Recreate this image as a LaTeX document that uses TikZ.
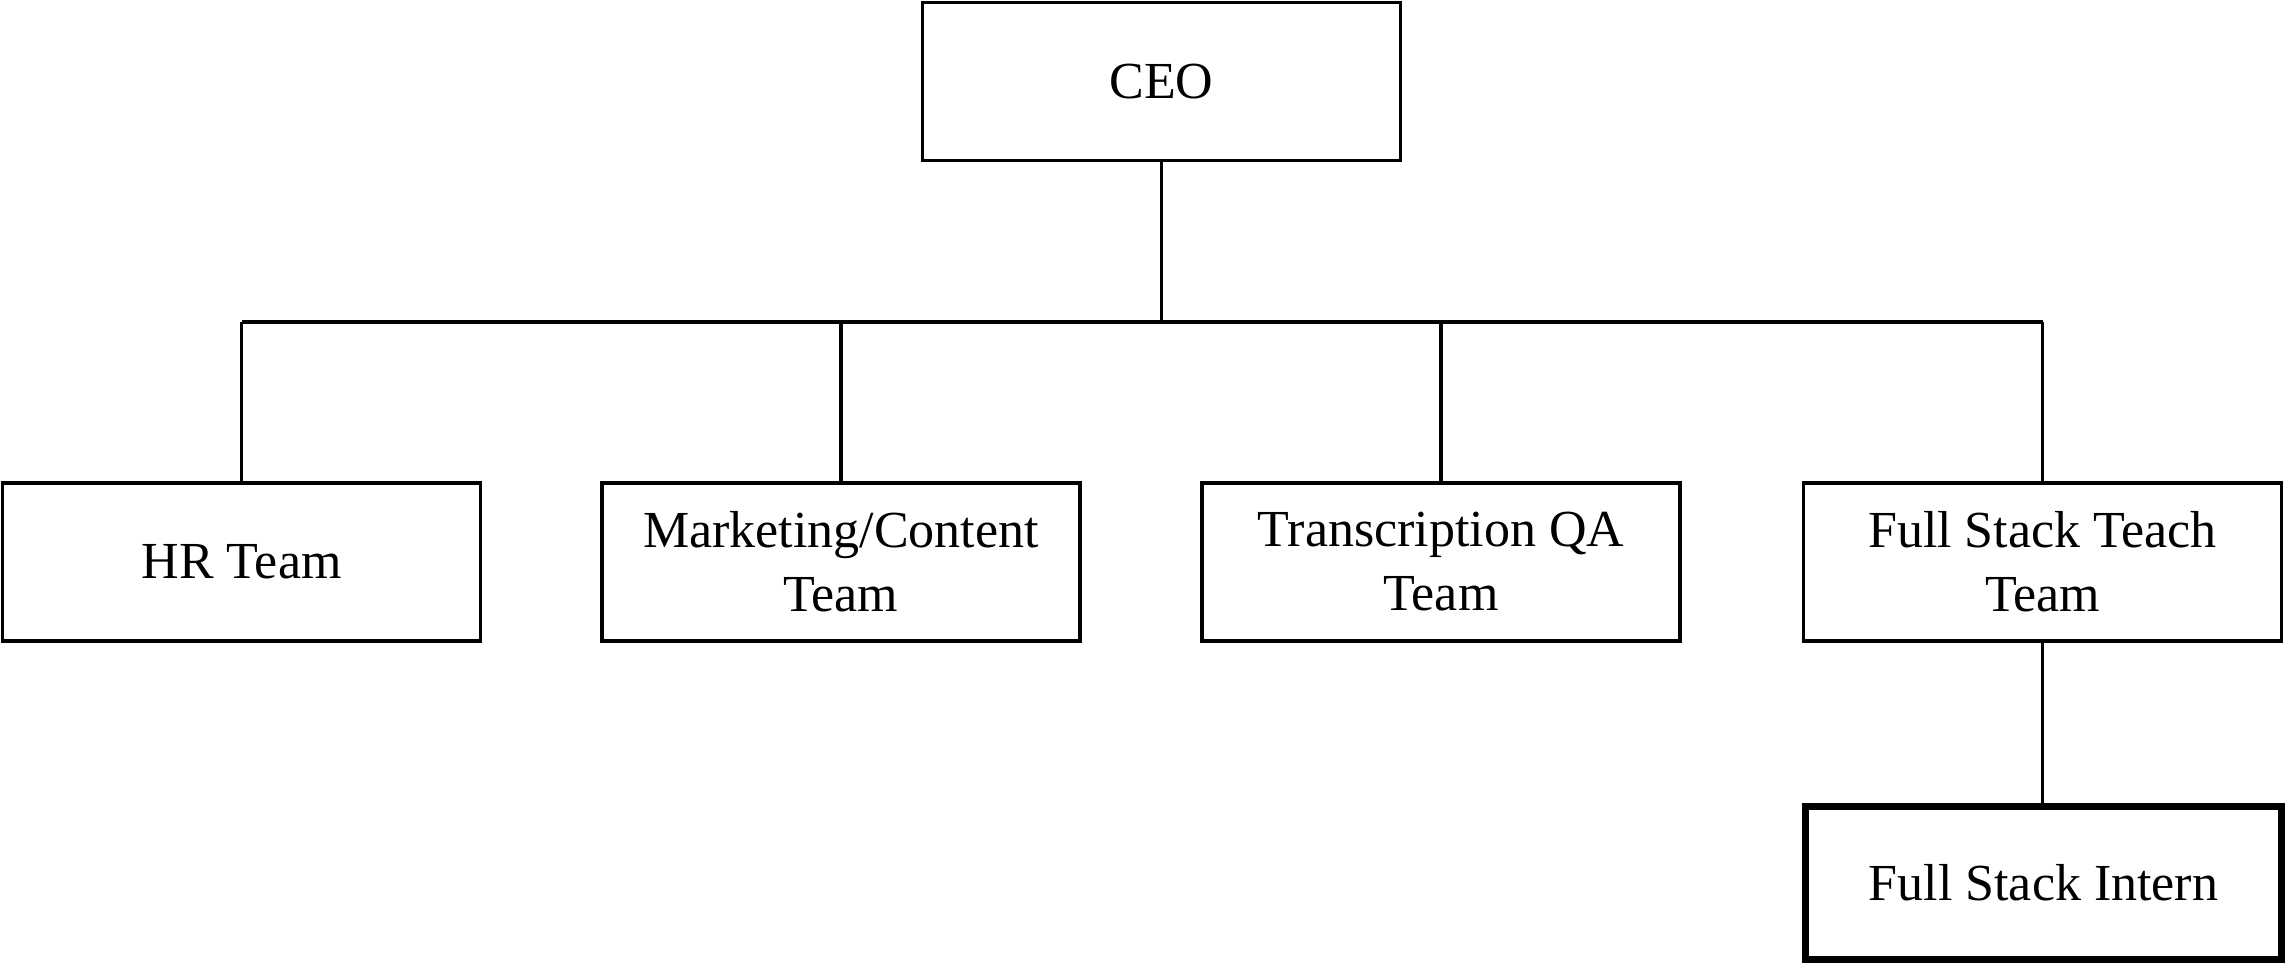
\documentclass[tikz,border=0pt]{standalone}
\usepackage{fontspec}
\setmainfont{Liberation Serif}
\begin{document}
\begin{tikzpicture}[x=0.5pt,y=-0.5pt,
  box/.style={draw=black,line width=1.65pt,rectangle,inner sep=0pt,
    minimum width=239pt,minimum height=79pt,align=center,
    font=\fontsize{26}{32}\selectfont},
  boldbox/.style={box,line width=3.5pt,minimum width=238pt,minimum height=76.5pt},
  conn/.style={draw=black,line width=1.65pt}]
\useasboundingbox (0,0) rectangle (2288,968);
\node[box] (ceo) at (1161.5,81.5) {CEO};
\node[box] (hr) at (241.5,562) {HR Team};
\node[box] (mkt) at (841,562) {Marketing/Content\\Team};
\node[box] (tqa) at (1441,562) {Transcription QA\\Team};
\node[box] (fst) at (2042.5,562) {Full Stack Teach\\Team};
\node[boldbox] (fsi) at (2043.5,883) {Full Stack Intern};
\coordinate (busl) at (241.5,322);
\coordinate (busr) at (2042.5,322);
\coordinate (busc) at (1161.5,322);
\draw[conn] (ceo.south) -- (busc);
\draw[conn] (busl) -- (busr);
\draw[conn] (busl) -- (hr.north);
\draw[conn] (mkt.north |- busl) -- (mkt.north);
\draw[conn] (tqa.north |- busl) -- (tqa.north);
\draw[conn] (busr) -- (fst.north);
\draw[conn] (fst.south) -- (fst.south |- fsi.north);
\end{tikzpicture}
\end{document}
